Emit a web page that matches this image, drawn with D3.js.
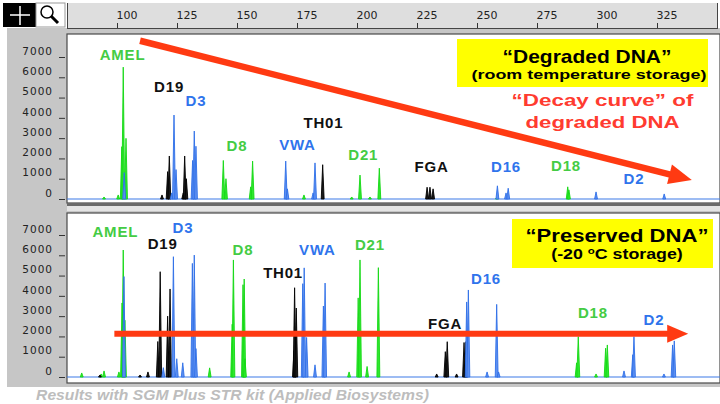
<!DOCTYPE html>
<html>
<head>
<meta charset="utf-8">
<script src="https://cdn.jsdelivr.net/npm/d3@7"></script>
<style>
  body { margin: 0; background: #fff; }
  svg { display: block; }
</style>
</head>
<body>
<div class="canvas"></div>
<script>
// fragment size ruler (bp) and signal axis (RFU)
const sizeTicks = [100, 125, 150, 175, 200, 225, 250, 275, 300, 325];
const rfuTicks = [0, 1000, 2000, 3000, 4000, 5000, 6000, 7000];

const loci = ['AMEL', 'D19', 'D3', 'D8', 'VWA', 'TH01', 'D21', 'FGA', 'D16', 'D18', 'D2'];
const lociDye = ['green', 'black', 'blue', 'green', 'blue', 'black', 'green', 'black', 'blue', 'green', 'blue'];
// where each locus name sits, [bp, rfu]
const degradedLabelAt = [[102.3, 6830], [121.7, 5275], [132.9, 4585], [150, 2366], [175.2, 2416], [186, 3500],
    [202.6, 1923], [231.1, 1331], [262.1, 1331], [287.1, 1380], [315.4, 740]];
const preservedLabelAt = [[99.3, 6877], [119, 6310], [127.5, 7099], [152.5, 6014], [183.5, 6014], [169.2, 4856],
    [205.4, 6285], [236.7, 2366], [253.75, 4585], [298.3, 2884], [323.75, 2588]];

// peaks [size bp, height RFU] - degraded sample (room temperature)
const degradedGreen = [[94.6, 100], [100.5, 200], [102.0, 2580], [102.6, 6500], [103.75, 2990],
    [144.3, 1900], [145.4, 1000], [155.7, 600], [156.5, 1870], [177.9, 200], [197.8, 100],
    [201.25, 1180], [205.4, 100], [209.3, 1520], [258.3, 80], [287.8, 600], [288.3, 450]];
const degradedBlue = [[103.0, 1300], [122.8, 300], [123.75, 4140], [124.6, 1450], [131.5, 1900], [132.2, 3350],
    [132.9, 2600], [170.3, 1870], [171.0, 500], [181.7, 300], [182.5, 1780],
    [258.5, 650], [262.1, 300], [263.0, 530], [299.6, 350], [328.0, 250]];
const degradedBlack = [[118.75, 200], [121.1, 1350], [121.8, 2120], [127.6, 300], [128.2, 2120], [128.9, 1000],
    [185.7, 1690], [229.2, 580], [230.4, 580], [231.7, 500]];

// peaks - preserved sample (-20 C)
const preservedGreen = [[85.3, 200], [93.4, 150], [94.6, 300], [100.8, 250], [102.1, 3650], [102.6, 6260],
    [103.3, 2800], [138.6, 450], [148.0, 2600], [148.5, 5770], [152.5, 4550], [153.0, 4830], [153.3, 900],
    [196.7, 250], [200.5, 3900], [201.25, 5770], [204.2, 520], [208.9, 5390],
    [291.5, 700], [292.2, 1990], [299.6, 150], [303.6, 1420], [304.3, 1580]];
const preservedBlue = [[102.9, 4950], [119.3, 460], [123.5, 5930], [124.9, 900], [127.4, 700], [131.4, 5600],
    [132.2, 6010], [132.9, 1400], [177.4, 4600], [178.0, 5380], [179.0, 1950], [182.5, 600], [186.0, 3500],
    [186.7, 4630], [245.7, 3700], [246.4, 4290], [254.2, 250], [258.2, 3580], [259.0, 250],
    [311.25, 300], [314.9, 1100], [315.4, 1990], [327.9, 150], [331.5, 1580], [332.2, 1780]];
const preservedBlack = [[92.9, 100], [109.6, 100], [112.9, 250], [117.0, 1750], [118.0, 5190], [121.1, 3000],
    [122.1, 4340], [173.75, 1300], [174.0, 4400], [174.7, 3400],
    [233.2, 150], [236.8, 1250], [237.6, 1740], [241.5, 150], [244.6, 1700], [245.4, 1740]];

// trend arrows [bp, rfu] start -> tip
const decayTrend = [[109.6, 7800], [339.5, 940]];
const preservedTrend = [[98.9, 2130], [338, 2130]];

const width = 720, height = 404;
const dyeColors = {
    green: {fill: '#2ee82e', stroke: '#14d814', label: '#44cc44'},
    blue: {fill: '#5d8ff0', stroke: '#2f6fe8', label: '#2f74ec'},
    black: {fill: '#1a1a1a', stroke: '#000', label: '#111'}
};

const svg = d3.select('.canvas')
    .append('svg')
    .attr('width', width)
    .attr('height', height);

svg.append('rect').attr('width', width).attr('height', height).attr('fill', '#fff');
svg.append('rect')
    .attr('x', 7).attr('y', 28).attr('width', width - 7).attr('height', 359)
    .attr('fill', '#c6c6c6');

// toolbar icons
svg.append('rect').attr('x', 3).attr('y', 3).attr('width', 33).attr('height', 24).attr('fill', '#000');
svg.append('path').attr('d', 'M10,15H30M20,6V25').attr('stroke', '#fff').attr('stroke-width', 1.5);
svg.append('rect').attr('x', 36).attr('y', 3).attr('width', 29).attr('height', 24)
    .attr('fill', '#fff').attr('stroke', '#999');
svg.append('circle').attr('cx', 47).attr('cy', 12).attr('r', 6)
    .attr('fill', 'none').attr('stroke', '#000').attr('stroke-width', 1.5);
svg.append('line').attr('x1', 51).attr('y1', 16).attr('x2', 58).attr('y2', 23)
    .attr('stroke', '#000').attr('stroke-width', 3);

const x = d3.scaleLinear().domain([100, 325]).range([117, 657]);
const yTop = d3.scaleLinear().domain([0, 7000]).range([199, 57]);
const yBot = d3.scaleLinear().domain([0, 7000]).range([377, 235]);

// size ruler
svg.append('rect').attr('x', 67).attr('y', 3).attr('width', 651).attr('height', 25).attr('fill', '#dedede');
const ruler = svg.append('g')
    .attr('transform', 'translate(0, 28)')
    .call(d3.axisTop(x).tickValues(sizeTicks).tickSize(5).tickPadding(4).tickSizeOuter(0));
ruler.select('.domain').remove();
ruler.selectAll('line').attr('stroke', '#333');
ruler.selectAll('text')
    .attr('text-anchor', 'start')
    .attr('x', -1)
    .attr('fill', '#222')
    .style('font-family', 'DejaVu Sans')
    .style('font-size', '11px');
svg.append('path').attr('d', 'M67,28.5H718M67.5,3V28M717.5,3V28').attr('stroke', '#444').attr('fill', 'none');

// panels
svg.append('rect').attr('x', 67).attr('y', 34).attr('width', 653).attr('height', 169)
    .attr('fill', '#fff').attr('stroke', '#4a4a4a').attr('stroke-width', 1.2);
svg.append('rect').attr('x', 67).attr('y', 203).attr('width', 653).attr('height', 3).attr('fill', '#6a6a6a');
svg.append('rect').attr('x', 67).attr('y', 206).attr('width', 653).attr('height', 5).attr('fill', '#e4e4e4');
svg.append('rect').attr('x', 67).attr('y', 213).attr('width', 653).attr('height', 170)
    .attr('fill', '#fff').attr('stroke', '#4a4a4a').attr('stroke-width', 1.2);

const drawPanel = (y, green, blue, black, labelAt) => {
    const g = svg.append('g');

    const yAxis = g.append('g')
        .attr('transform', 'translate(65, 0)')
        .call(d3.axisLeft(y).tickValues(rfuTicks).tickFormat(d3.format('d')).tickSize(6).tickPadding(6));
    yAxis.select('.domain').remove();
    yAxis.selectAll('line').attr('stroke', '#333');
    yAxis.selectAll('text')
        .attr('dy', -2.8)
        .attr('fill', '#222')
        .style('font-family', 'DejaVu Sans')
        .style('font-size', '10.5px')
        .style('letter-spacing', '1px');

    g.append('line')
        .attr('x1', 67).attr('x2', 720)
        .attr('y1', y(0)).attr('y2', y(0))
        .attr('stroke', '#3d7be8').attr('stroke-width', 1.2);

    const hw = 0.6;
    const area = d3.area()
        .x(d => x(d[0]))
        .y0(y(0))
        .y1(d => y(d[1]));

    [['green', green], ['black', black], ['blue', blue]].forEach(([dye, peaks]) => {
        g.append('g').selectAll('path')
            .data(peaks)
            .join('path')
            .attr('d', d => area([[d[0] - hw, 0], [d[0], d[1]], [d[0] + hw, 0]]))
            .attr('fill', dyeColors[dye].fill)
            .attr('stroke', dyeColors[dye].stroke)
            .attr('stroke-width', 0.9)
            .attr('stroke-linejoin', 'miter');
    });

    g.append('g').selectAll('text')
        .data(loci)
        .join('text')
        .attr('x', (d, i) => x(labelAt[i][0]))
        .attr('y', (d, i) => y(labelAt[i][1]))
        .attr('text-anchor', 'middle')
        .attr('fill', (d, i) => dyeColors[lociDye[i]].label)
        .style('font-family', 'Liberation Sans')
        .style('font-weight', 'bold')
        .style('font-size', '15px')
        .style('letter-spacing', '0.8px')
        .text(d => d);
    return g;
};

const topPanel = drawPanel(yTop, degradedGreen, degradedBlue, degradedBlack, degradedLabelAt);
const botPanel = drawPanel(yBot, preservedGreen, preservedBlue, preservedBlack, preservedLabelAt);

const arrow = (g, y, pts, thick, headLen, headHalf) => {
    const x0 = x(pts[0][0]), y0 = y(pts[0][1]);
    const x1 = x(pts[1][0]), y1 = y(pts[1][1]);
    const a = Math.atan2(y1 - y0, x1 - x0);
    const bx = x1 - headLen * Math.cos(a), by = y1 - headLen * Math.sin(a);
    g.append('line')
        .attr('x1', x0).attr('y1', y0).attr('x2', bx + 2 * Math.cos(a)).attr('y2', by + 2 * Math.sin(a))
        .attr('stroke', '#ff3a12').attr('stroke-width', thick);
    g.append('path')
        .attr('d', d3.line()([
            [x1, y1],
            [bx - headHalf * Math.sin(a), by + headHalf * Math.cos(a)],
            [bx + headHalf * Math.sin(a), by - headHalf * Math.cos(a)]
        ]) + 'Z')
        .attr('fill', '#ff3a12');
};
arrow(topPanel, yTop, decayTrend, 6.5, 23, 10);
arrow(botPanel, yBot, preservedTrend, 6, 21, 9);

// stretch a text to a measured width (the source picture is wide)
const fitText = (sel, cx, w) => {
    const len = sel.node().getComputedTextLength();
    sel.attr('x', 0).attr('text-anchor', 'middle')
        .attr('transform', `translate(${cx}, ${sel.attr('y')}) scale(${w / len}, 1)`)
        .attr('y', 0);
};
const note = (txt, cx, y, size, w, color) => {
    const t = svg.append('text')
        .attr('y', y)
        .attr('fill', color)
        .style('font-family', 'Liberation Sans')
        .style('font-weight', 'bold')
        .style('font-size', size + 'px')
        .text(txt);
    fitText(t, cx, w);
    return t;
};

svg.append('rect').attr('x', 457).attr('y', 39).attr('width', 251).attr('height', 48).attr('fill', '#ffff00');
note('\u201cDegraded DNA\u201d', 587, 62.7, 17.5, 169, '#000');
note('(room temperature storage)', 589, 79, 13.5, 235, '#000');
note('\u201cDecay curve\u201d of', 602.5, 106, 17, 182, '#ff3b30');
note('degraded DNA', 602.5, 128.3, 17, 154, '#ff3b30');

svg.append('rect').attr('x', 512).attr('y', 219).attr('width', 201).attr('height', 49).attr('fill', '#ffff00');
note('\u201cPreserved DNA\u201d', 617, 241.7, 17.5, 183, '#000');

const storage = svg.append('text')
    .attr('y', 259.3)
    .attr('fill', '#000')
    .style('font-family', 'Liberation Sans')
    .style('font-weight', 'bold')
    .style('font-size', '14px');
storage.append('tspan').text('(-20 ');
storage.append('tspan').attr('dy', -5).style('font-size', '9px').text('o');
storage.append('tspan').attr('dy', 5).text('C storage)');
fitText(storage, 617, 131.7);

const caption = svg.append('text')
    .attr('y', 399.5)
    .attr('fill', '#bdbdbd')
    .style('font-family', 'Liberation Sans')
    .style('font-weight', 'bold')
    .style('font-style', 'italic')
    .style('font-size', '14px')
    .text('Results with SGM Plus STR kit (Applied Biosystems)');
fitText(caption, 36 + 393 / 2, 393);
</script>
</body>
</html>
